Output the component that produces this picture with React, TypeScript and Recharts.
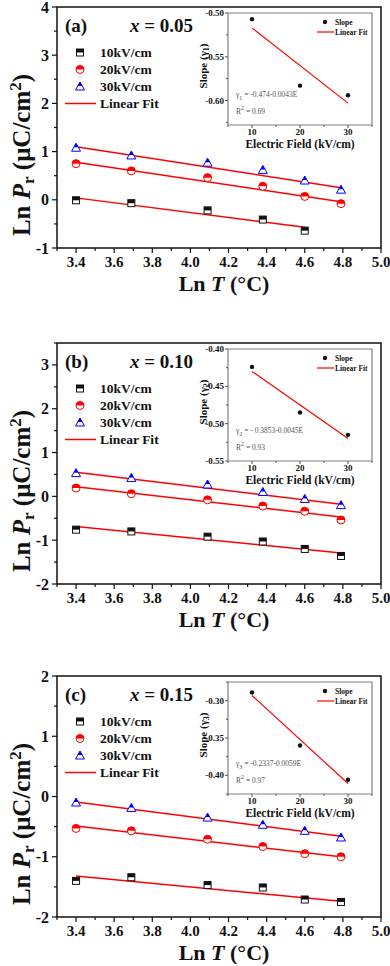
import React from 'react'
import { ComposedChart, Scatter, Line, XAxis, YAxis, ReferenceArea, Legend } from 'recharts'

const FONT = '"Liberation Serif", "Times New Roman", serif'
const INK = '#111111'
const RED = '#ff0000'
const BLUE = '#0000ff'

// ln T positions, same in every panel
const lnT = [3.4, 3.69, 4.09, 4.38, 4.6, 4.79]
const fieldNames = ['10kV/cm', '20kV/cm', '30kV/cm']
const xTicks = [3.3, 3.4, 3.5, 3.6, 3.7, 3.8, 3.9, 4.0, 4.1, 4.2, 4.3, 4.4, 4.5, 4.6, 4.7, 4.8, 4.9, 5.0]

// (a) x = 0.05
const a10 = [-0.01, -0.07, -0.22, -0.41, -0.64]
const a20 = [0.75, 0.6, 0.46, 0.28, 0.07, -0.08]
const a30 = [1.08, 0.92, 0.77, 0.62, 0.4, 0.21]
const aFitEnds = [4.6, 4.79, 4.79]
const aFit = [[0.04, -0.57], [0.78, -0.04], [1.1, 0.25]]
const aYTicks = [-1, -0.5, 0, 0.5, 1, 1.5, 2, 2.5, 3, 3.5, 4]

// (b) x = 0.10
const b10 = [-0.76, -0.8, -0.92, -1.03, -1.2, -1.36]
const b20 = [0.19, 0.06, -0.08, -0.22, -0.34, -0.54]
const b30 = [0.53, 0.42, 0.27, 0.1, -0.06, -0.2]
const bFitEnds = [4.79, 4.79, 4.79]
const bFit = [[-0.69, -1.29], [0.22, -0.47], [0.55, -0.18]]
const bYTicks = [-2, -1.5, -1, -0.5, 0, 0.5, 1, 1.5, 2, 2.5, 3, 3.5]

// (c) x = 0.15
const c10 = [-1.4, -1.34, -1.47, -1.51, -1.71, -1.75]
const c20 = [-0.53, -0.57, -0.71, -0.83, -0.95, -1.0]
const c30 = [-0.1, -0.19, -0.35, -0.47, -0.57, -0.68]
const cFitEnds = [4.79, 4.79, 4.79]
const cFit = [[-1.32, -1.74], [-0.49, -1.0], [-0.09, -0.66]]
const cYTicks = [-2, -1.5, -1, -0.5, 0, 0.5, 1, 1.5, 2]

// insets: slope vs electric field
const fieldE = [10, 20, 30]
const fitE = [10, 30]
const insetXTicks = [5, 10, 15, 20, 25, 30, 35]
const slopeA = [-0.507, -0.583, -0.594]
const slopeFitA = [-0.517, -0.603]
const insetYTicksA = [-0.625, -0.6, -0.575, -0.55, -0.525, -0.5]
const slopeB = [-0.424, -0.485, -0.515]
const slopeFitB = [-0.43, -0.52]
const insetYTicksB = [-0.55, -0.525, -0.5, -0.475, -0.45, -0.425, -0.4]
const slopeC = [-0.289, -0.36, -0.406]
const slopeFitC = [-0.293, -0.411]
const insetYTicksC = [-0.425, -0.4, -0.375, -0.35, -0.325, -0.3, -0.275]

const panels = [
  {
    tag: '(a)', xv: '0.05', top: 0, yDomain: [-1, 4], yTicks: aYTicks,
    series: [a10, a20, a30], fitEnds: aFitEnds, fits: aFit,
    sub: '1', eq: ' = -0.474-0.0043E', r2: ' = 0.69',
    slope: slopeA, slopeFit: slopeFitA, insetDomain: [-0.628, -0.5], insetTicks: insetYTicksA,
  },
  {
    tag: '(b)', xv: '0.10', top: 336, yDomain: [-2, 3.5], yTicks: bYTicks,
    series: [b10, b20, b30], fitEnds: bFitEnds, fits: bFit,
    sub: '2', eq: ' = - 0.3853-0.0045E', r2: ' = 0.93',
    slope: slopeB, slopeFit: slopeFitB, insetDomain: [-0.55, -0.4], insetTicks: insetYTicksB,
  },
  {
    tag: '(c)', xv: '0.15', top: 669, yDomain: [-2, 2], yTicks: cYTicks,
    series: [c10, c20, c30], fitEnds: cFitEnds, fits: cFit,
    sub: '3', eq: ' = -0.2337-0.0059E', r2: ' = 0.97',
    slope: slopeC, slopeFit: slopeFitC, insetDomain: [-0.425, -0.275], insetTicks: insetYTicksC,
  },
]

const isMult = (v: number, step: number) => {
  const r = v / step
  return Math.abs(r - Math.round(r)) < 1e-6
}

// half-filled markers
const HalfSquare = ({ cx, cy }: any) => (
  <g>
    <rect x={cx - 3.5} y={cy - 3.5} width={7} height={7} fill="#fff" stroke={INK} strokeWidth={1} />
    <rect x={cx - 3.5} y={cy - 3.5} width={7} height={3.5} fill={INK} />
  </g>
)
const HalfCircle = ({ cx, cy }: any) => (
  <g>
    <circle cx={cx} cy={cy} r={4} fill="#fff" stroke={RED} strokeWidth={1} />
    <path d={`M${cx - 4},${cy} A4,4 0 0 1 ${cx + 4},${cy} Z`} fill={RED} />
  </g>
)
const HalfTriangle = ({ cx, cy }: any) => (
  <g>
    <path d={`M${cx},${cy - 4.5} L${cx + 4.5},${cy + 3.5} L${cx - 4.5},${cy + 3.5} Z`} fill="#fff" stroke={BLUE} strokeWidth={1} />
    <path d={`M${cx},${cy - 4.5} L${cx + 2.25},${cy - 0.5} L${cx - 2.25},${cy - 0.5} Z`} fill={BLUE} />
  </g>
)
const shapes = [HalfSquare, HalfCircle, HalfTriangle]

function MainXTick(props: any) {
  const { x, y, payload } = props
  const v = payload.value
  const major = isMult(v, 0.2)
  return (
    <g>
      <line x1={x} x2={x} y1={y} y2={y + (major ? 5 : 3)} stroke={INK} strokeWidth={1.2} />
      {major && (
        <text x={x} y={y + 13.5} textAnchor="middle" dominantBaseline="central" fontFamily={FONT} fontWeight="bold" fontSize={15} fill={INK}>
          {v.toFixed(1)}
        </text>
      )}
    </g>
  )
}

function MainYTick(props: any) {
  const { x, y, payload } = props
  const v = payload.value
  const major = isMult(v, 1)
  return (
    <g>
      <line x1={x - (major ? 5 : 3)} x2={x} y1={y} y2={y} stroke={INK} strokeWidth={1.2} />
      {major && (
        <text x={x - 8} y={y} textAnchor="end" dominantBaseline="central" fontFamily={FONT} fontWeight="bold" fontSize={16} fill={INK}>
          {String(v)}
        </text>
      )}
    </g>
  )
}

function InsetXTick(props: any) {
  const { x, y, payload } = props
  const v = payload.value
  const major = isMult(v, 10)
  return (
    <g>
      <line x1={x} x2={x} y1={y} y2={y + (major ? 3 : 2)} stroke="#555" strokeWidth={1} />
      {major && (
        <text x={x} y={y + 7} textAnchor="middle" dominantBaseline="central" fontFamily={FONT} fontWeight="bold" fontSize={9} fill={INK}>
          {String(v)}
        </text>
      )}
    </g>
  )
}

function InsetYTick(props: any) {
  const { x, y, payload } = props
  const v = payload.value
  const major = isMult(v, 0.05)
  return (
    <g>
      <line x1={x - (major ? 3 : 2)} x2={x} y1={y} y2={y} stroke="#555" strokeWidth={1} />
      {major && (
        <text x={x - 4} y={y} textAnchor="end" dominantBaseline="central" fontFamily={FONT} fontWeight="bold" fontSize={9} fill={INK}>
          {v.toFixed(2)}
        </text>
      )}
    </g>
  )
}

const MainXTitle = (props: any) => {
  const vb = props.viewBox
  return (
    <text x={vb.x + vb.width / 2 + 5} y={vb.y + 35} textAnchor="middle" dominantBaseline="central" fontFamily={FONT} fontWeight="bold" fontSize={22} fill={INK}>
      Ln <tspan fontStyle="italic">T</tspan> (°C)
    </text>
  )
}

const InsetXTitle = (props: any) => {
  const vb = props.viewBox
  return (
    <text x={vb.x + vb.width / 2} y={vb.y + 19} textAnchor="middle" dominantBaseline="central" fontFamily={FONT} fontWeight="bold" fontSize={11.5} fill={INK}>
      Electric Field (kV/cm)
    </text>
  )
}

const MainLegend = () => (
  <div style={{ fontFamily: FONT, fontWeight: 'bold', fontSize: 13.5, color: INK }}>
    {fieldNames.map((name, i) => {
      const Shape = shapes[i]
      return (
        <div key={name} style={{ display: 'flex', alignItems: 'center', height: 17 }}>
          <svg width={38} height={17}>
            <Shape cx={18} cy={8.5} />
          </svg>
          <span>{name}</span>
        </div>
      )
    })}
    <div style={{ display: 'flex', alignItems: 'center', height: 17 }}>
      <svg width={38} height={17}>
        <line x1={3} x2={34} y1={8.5} y2={8.5} stroke={RED} strokeWidth={1.5} />
      </svg>
      <span>Linear Fit</span>
    </div>
  </div>
)

const InsetLegend = () => (
  <div style={{ fontFamily: FONT, fontWeight: 'bold', fontSize: 7.5, color: INK }}>
    <div style={{ display: 'flex', alignItems: 'center', height: 10 }}>
      <svg width={19} height={10}>
        <circle cx={9} cy={5} r={2.2} fill={INK} />
      </svg>
      <span>Slope</span>
    </div>
    <div style={{ display: 'flex', alignItems: 'center', height: 10 }}>
      <svg width={19} height={10}>
        <line x1={1} x2={18} y1={5} y2={5} stroke={RED} strokeWidth={1.2} />
      </svg>
      <span>Linear Fit</span>
    </div>
  </div>
)

const Dot = ({ cx, cy }: any) => <circle cx={cx} cy={cy} r={2.2} fill={INK} />

const rotated = (cx: number, cy: number, size: number): React.CSSProperties => ({
  position: 'absolute', left: cx, top: cy, transform: 'translate(-50%, -50%) rotate(-90deg)',
  fontFamily: FONT, fontWeight: 'bold', fontSize: size, lineHeight: 1, color: INK, whiteSpace: 'nowrap',
})

function Panel({ p }: { p: (typeof panels)[number] }) {
  return (
    <div style={{ position: 'absolute', left: 0, top: p.top, width: 390, height: 300 }}>
      <ComposedChart width={390} height={300} margin={{ top: 7, right: 9, bottom: 0, left: 0 }} style={{ overflow: 'visible' }}>
        <XAxis type="number" dataKey="x" domain={[3.3, 5.0]} ticks={xTicks} interval={0} allowDataOverflow
          tickSize={0} tickMargin={0} tickLine={false} axisLine={false} tick={MainXTick} height={52} label={MainXTitle} />
        <YAxis type="number" dataKey="y" domain={p.yDomain} ticks={p.yTicks} interval={0} allowDataOverflow
          tickSize={0} tickMargin={0} tickLine={false} axisLine={false} tick={MainYTick} width={57} />
        <ReferenceArea x1={3.3} x2={5.0} y1={p.yDomain[0]} y2={p.yDomain[1]} fill="none" stroke={INK} strokeWidth={1.5} ifOverflow="visible" />
        {p.fits.map((f, i) => (
          <Line key={'fit' + i} data={[{ x: 3.4, y: f[0] }, { x: p.fitEnds[i], y: f[1] }]} dataKey="y" type="linear"
            stroke={RED} strokeWidth={1.5} dot={false} isAnimationActive={false} legendType="none" />
        ))}
        {p.series.map((s, i) => (
          <Scatter key={'s' + i} name={fieldNames[i]} data={s.map((y, j) => ({ x: lnT[j], y }))} dataKey="y"
            shape={shapes[i]} isAnimationActive={false} />
        ))}
        <Legend layout="vertical" align="center" verticalAlign="middle" content={MainLegend}
          wrapperStyle={{ left: 62, top: 44, width: 160, height: 70 }} />
      </ComposedChart>

      <div style={rotated(22, 155, 25)}>
        Ln <i>P</i><sub style={{ fontSize: 17, verticalAlign: '-4px' }}>r</sub> (μC/cm<sup style={{ fontSize: 17, verticalAlign: '9px' }}>2</sup>)
      </div>

      <div style={{ position: 'absolute', left: 65, top: 15, fontFamily: FONT, fontWeight: 'bold', fontSize: 19, lineHeight: '22px', color: INK }}>
        {p.tag}
      </div>
      <div style={{ position: 'absolute', left: 130, top: 15, fontFamily: FONT, fontWeight: 'bold', fontSize: 19, lineHeight: '22px', color: INK }}>
        <i>x</i> = {p.xv}
      </div>

      <div style={{ position: 'absolute', left: 190, top: 0 }}>
        <ComposedChart width={200} height={160} margin={{ top: 13, right: 18, bottom: 0, left: 0 }} style={{ overflow: 'visible' }}>
          <XAxis type="number" dataKey="x" domain={[5, 35]} ticks={insetXTicks} interval={0} allowDataOverflow
            tickSize={0} tickMargin={0} tickLine={false} axisLine={false} tick={InsetXTick} height={35} label={InsetXTitle} />
          <YAxis type="number" dataKey="y" domain={p.insetDomain} ticks={p.insetTicks} interval={0} allowDataOverflow
            tickSize={0} tickMargin={0} tickLine={false} axisLine={false} tick={InsetYTick} width={38} />
          <ReferenceArea x1={5} x2={35} y1={p.insetDomain[0]} y2={p.insetDomain[1]} fill="#fff" stroke="#808080" strokeWidth={1.2} ifOverflow="visible" />
          <Line data={fitE.map((x, i) => ({ x, y: p.slopeFit[i] }))} dataKey="y" type="linear" stroke={RED} strokeWidth={1.2}
            dot={false} isAnimationActive={false} legendType="none" />
          <Scatter name="Slope" data={fieldE.map((x, i) => ({ x, y: p.slope[i] }))} dataKey="y" shape={Dot} isAnimationActive={false} />
          <Legend layout="vertical" align="center" verticalAlign="middle" content={InsetLegend}
            wrapperStyle={{ left: 126, top: 17, width: 70, height: 20 }} />
        </ComposedChart>
      </div>

      <div style={rotated(204, 66, 11)}>
        Slope (γ<sub style={{ fontSize: 8, verticalAlign: '-2px' }}>{p.sub}</sub>)
      </div>

      <div style={{ position: 'absolute', left: 236, top: 91, fontFamily: FONT, fontSize: 7.5, lineHeight: '8px', color: '#555', whiteSpace: 'nowrap' }}>
        γ<sub style={{ fontSize: 6 }}>{p.sub}</sub>{p.eq}
      </div>
      <div style={{ position: 'absolute', left: 236, top: 104, fontFamily: FONT, fontSize: 7.5, lineHeight: '8px', color: '#555', whiteSpace: 'nowrap' }}>
        R<sup style={{ fontSize: 6 }}>2</sup>{p.r2}
      </div>
    </div>
  )
}

export default function App() {
  return (
    <div style={{ position: 'absolute', left: 0, top: 0, width: 390, height: 966, background: '#fff', overflow: 'hidden' }}>
      {panels.map((p) => (
        <Panel key={p.tag} p={p} />
      ))}
    </div>
  )
}
